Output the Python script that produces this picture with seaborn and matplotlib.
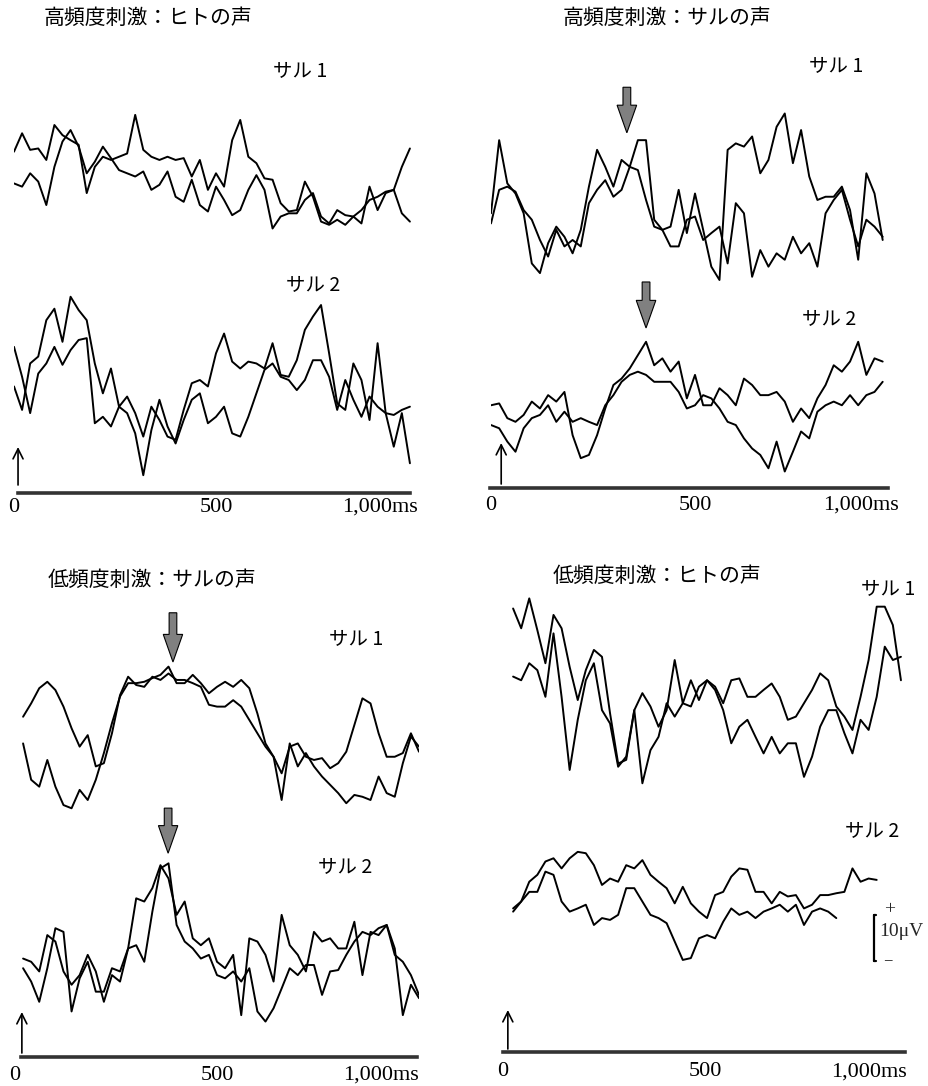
import numpy as np
import seaborn as sns
import matplotlib.pyplot as plt
from matplotlib.patches import FancyArrow

sns.set_theme(style="white")
plt.rcParams["font.family"] = ["Noto Sans CJK JP", "DejaVu Sans"]

W, H = 929, 1086          # output size in pixels
PX_PER_UV = 4.6           # vertical scale: pixels per microvolt (10 uV bar)

# ---------------------------------------------------------------- data (uV)
# time axes (ms) of the four panels
t_tl = np.arange(0, 1000, 20)
t_tr = np.arange(0, 980, 20)
t_bl = np.arange(20, 1020, 20)
t_br = np.arange(25, 1005, 20)

# 高頻度刺激：ヒトの声
tl_m1_a = [4.7, 8.7, 5.1, 5.4, 2.9, 10.5, 8.3, 7.2, 6.2, -4.3, 1.4, 3.6, 2.9, 3.6, 4.3, 12.7, 5.1, 3.6, 2.9, 3.6,
           2.9, 3.3, -0.7, 2.9, -3.6, 0.0, -2.9, 7.2, 11.6, 3.6, 2.2, -1.1, -1.4, -6.5, -8.3, -8.0, -1.8, -5.1, -10.5, -11.2,
           -10.1, -11.2, -9.4, -10.9, -2.9, -8.0, -4.3, -3.6, 1.4, 5.4]
tl_m1_b = [-2.2, -2.9, 0.0, -1.8, -6.9, 1.4, 6.9, 9.4, 5.8, 0.0, 2.5, 5.8, 3.3, 0.7, 0.0, -0.7, 0.4, -3.6, -2.5, 0.4,
           -5.1, -6.2, -1.4, -6.9, -8.3, -2.9, -5.8, -9.1, -8.0, -3.6, -0.4, -3.6, -12.0, -9.4, -8.7, -8.7, -5.8, -4.3, -9.4, -10.9,
           -8.0, -9.1, -9.4, -8.0, -5.8, -5.1, -4.0, -3.6, -8.7, -10.5]
tl_m2_a = [-1.4, -6.5, 3.6, 5.1, 13.0, 15.5, 8.3, 18.1, 15.2, 13.0, 3.6, -2.9, 2.5, -5.8, -3.6, -7.2, -12.3, -5.8, -8.7, -12.3,
           -13.0, -6.5, -0.7, 0.0, -1.4, 5.8, 10.1, 4.0, 2.5, 4.0, 3.6, 2.5, 8.0, 1.1, 0.7, 4.3, 10.9, 13.8, 16.3, 5.8,
           -5.1, -6.5, 3.6, 0.0, -8.7, 8.0, -7.2, -14.5, -7.2, -18.1]
tl_m2_b = [7.2, 0.7, -7.2, 1.4, 3.6, 7.2, 3.3, 6.5, 8.7, 9.1, -9.4, -8.0, -10.1, -5.8, -7.2, -11.6, -20.7, -10.9, -4.3, -10.1,
           -13.8, -8.7, -4.3, -2.9, -9.4, -8.0, -5.8, -11.6, -12.3, -8.0, -2.9, 2.2, 3.6, 0.7, 0.0, -2.2, 0.0, 4.3, 4.3, 0.7,
           -6.5, 0.0, -4.3, -8.0, -3.6, -5.8, -7.2, -7.6, -6.5, -5.8]

# 高頻度刺激：サルの声
tr_m1_a = [0.0, 15.9, 6.5, 4.3, 0.0, -10.9, -13.0, -6.5, -2.9, -5.1, -8.7, -3.6, 5.8, 13.8, 10.1, 5.8, 11.6, 10.1, 15.9, 15.9,
           -1.4, -3.6, -2.9, 5.1, -4.3, 4.3, -3.6, -11.6, -14.5, 13.8, 15.2, 14.5, 16.7, 8.7, 11.6, 18.8, 21.7, 10.9, 18.1, 8.0,
           2.9, 3.6, 3.6, 5.8, 0.7, -10.1, 8.7, 4.3, -5.8]
tr_m1_b = [-2.2, 5.1, 5.8, 4.7, 0.7, -1.4, -5.8, -9.4, -3.6, -7.2, -5.8, -7.2, 2.2, 5.1, 7.2, 3.6, 5.1, 10.1, 9.4, 2.9,
           -2.9, -3.6, -7.2, -7.2, -1.4, -0.7, -5.8, -4.3, -2.9, -10.9, 2.2, 0.0, -13.8, -8.0, -11.6, -8.7, -10.1, -5.1, -8.7, -6.5,
           -11.6, 0.0, 2.9, 5.1, -1.4, -7.2, -1.4, -2.9, -5.1]
tr_m2_a = [1.4, 1.8, -1.4, -2.2, -0.7, 2.2, 0.7, 3.6, 2.2, 4.3, -5.1, -10.1, -9.4, -5.1, 0.7, 5.8, 7.2, 9.4, 12.3, 15.2,
           10.1, 11.6, 8.7, 10.9, 2.9, 8.0, 1.4, 1.4, 5.1, 3.6, 1.4, 7.2, 5.8, 3.6, 3.6, 4.3, 2.2, -2.2, 0.7, -1.4,
           2.9, 5.8, 10.1, 8.7, 10.9, 15.2, 8.0, 11.6, 10.9]
tr_m2_b = [-2.9, -3.6, -6.5, -8.7, -3.6, -1.4, -0.7, 1.4, -2.2, 0.0, -2.2, -1.4, -2.2, -2.9, 1.4, 3.6, 6.5, 8.0, 8.7, 8.0,
           6.5, 6.5, 6.5, 4.3, 0.7, 1.4, 3.6, 2.9, 0.7, -2.2, -2.9, -5.8, -8.0, -9.4, -12.3, -6.5, -13.0, -8.7, -4.3, -5.8,
           0.0, 1.4, 2.2, 1.4, 3.6, 1.4, 3.6, 4.3, 6.5]

# 低頻度刺激：サルの声
bl_m1_a = [3.6, 6.5, 9.8, 11.2, 9.4, 5.8, 1.1, -2.9, -0.4, -7.2, -6.5, 0.0, 8.3, 12.3, 10.5, 10.1, 12.3, 11.6, 13.0, 11.6,
           11.6, 10.9, 10.1, 6.2, 5.8, 5.8, 7.2, 5.8, 2.9, 0.0, -2.9, -5.1, -8.7, -2.9, -2.2, -5.1, -5.8, -5.4, -7.6, -6.5,
           -4.0, 1.8, 7.6, 6.5, 0.0, -5.1, -5.1, -4.3, 0.0, -4.0]
bl_m1_b = [-2.2, -10.1, -11.6, -5.8, -11.6, -15.6, -16.3, -12.3, -14.5, -10.1, -4.3, 2.2, 8.0, 10.9, 10.9, 11.2, 12.0, 12.7, 14.5, 10.9,
           10.9, 12.7, 10.9, 8.7, 10.1, 11.2, 10.1, 11.6, 9.8, 4.3, -2.2, -5.1, -14.5, -2.2, -7.2, -4.3, -7.2, -9.4, -11.2, -13.0,
           -15.2, -13.4, -13.8, -14.5, -9.4, -13.0, -13.8, -6.5, -0.7, -2.9]
bl_m2_a = [1.4, 0.7, -1.4, 6.5, 5.1, -1.4, -4.3, -2.2, 2.2, -1.4, -8.0, -2.2, -3.6, 3.6, 14.5, 13.8, 16.7, 21.7, 18.8, 10.9,
           13.8, 5.8, 4.3, 5.8, 0.7, -0.7, 2.2, -10.9, 5.8, 5.1, 2.2, -3.6, 10.9, 4.3, 2.2, -1.4, 7.2, 5.1, 5.8, 3.6,
           3.6, 9.4, -2.2, 7.2, 6.5, 8.7, 3.6, -10.9, -4.3, -7.2]
bl_m2_b = [-0.7, -3.6, -8.0, -0.7, 8.0, 7.2, -10.1, -2.9, 0.7, -5.8, -5.8, -0.7, -1.4, 3.6, 4.3, 0.7, 11.6, 21.0, 22.1, 8.7,
           5.1, 3.6, 1.4, 2.2, -2.2, -2.9, -1.4, -3.6, -0.7, -10.1, -12.3, -9.4, -5.1, -0.7, -2.2, 0.0, 0.0, -6.5, -1.4, -1.1,
           2.2, 5.1, 7.2, 6.5, 8.0, 8.7, 2.2, 0.7, -2.2, -6.5]

# 低頻度刺激：ヒトの声
br_m1_a = [17.0, 12.7, 19.2, 12.3, 5.1, 15.6, 12.7, 4.3, -2.9, 3.6, 8.0, 6.5, -5.8, -16.7, -15.9, -5.1, -1.4, -4.3, -8.7, -5.1,
           5.8, -3.6, 1.4, -2.9, 1.4, 0.0, -3.6, 1.4, 1.8, -2.2, -2.2, -0.7, 0.7, -2.2, -7.2, -6.5, -3.6, -0.7, 2.9, 1.4,
           -4.3, -6.5, -9.4, -2.2, 5.8, 17.4, 17.4, 13.4, 1.4]
br_m1_b = [2.2, 1.4, 5.1, 3.6, -2.2, 11.6, -2.2, -18.1, -7.2, 1.4, 5.1, -5.1, -8.0, -17.4, -15.2, -5.1, -21.0, -13.8, -10.9, -3.6,
           -6.5, -3.6, -4.3, 0.0, 1.4, -0.7, -5.1, -12.3, -8.7, -7.2, -10.9, -14.5, -10.9, -14.5, -12.3, -12.3, -19.6, -15.2, -8.7, -5.1,
           -5.1, -10.1, -14.5, -7.2, -9.4, -2.2, 8.7, 5.8, 6.5]
br_m2_a = [-2.2, -0.7, 3.6, 5.1, 8.0, 8.7, 6.5, 8.7, 10.1, 9.8, 7.2, 2.9, 4.3, 3.6, 7.2, 6.5, 8.3, 5.1, 3.6, 2.2,
           -1.1, 2.5, -1.1, -2.9, -4.3, 0.7, 1.4, 4.7, 6.5, 6.2, 1.4, 1.4, -1.1, 1.4, 0.4, 0.7, -2.2, -1.4, 0.7, 0.7,
           1.1, 1.4, 6.5, 3.6, 4.3, 4.0]
br_m2_b = [-2.9, -0.7, 1.4, 1.4, 5.8, 5.1, -0.7, -2.9, -2.2, -1.4, -5.8, -4.3, -4.7, -3.6, 2.2, 2.2, -0.7, -3.6, -4.3, -5.4,
           -9.4, -13.4, -13.0, -8.7, -8.0, -8.7, -5.1, -2.2, -3.6, -2.9, -4.3, -2.9, -2.2, -1.4, -2.9, -1.4, -5.8, -2.9, -2.2, -2.9,
           -4.3]

fig = plt.figure(figsize=(W / 100, H / 100), dpi=100)
fig.patch.set_facecolor("white")


def ptext(x, y, s, **kw):
    # text placed by pixel position from the top-left corner
    fig.text(x / W, 1 - y / H, s, **kw)


def trace_axes(x0, ppm, base_y):
    # x0: pixel of t=0, ppm: pixels per ms, base_y: pixel row of 0 uV
    half = 35 * PX_PER_UV
    ax = fig.add_axes([x0 / W, 1 - (base_y + half) / H, 1000 * ppm / W, 2 * half / H])
    ax.set_xlim(0, 1000)
    ax.set_ylim(-35, 35)
    ax.axis("off")
    ax.patch.set_alpha(0)
    return ax


def draw_traces(ax, t, a, b):
    for vals in (a, b):
        sns.lineplot(x=t[:len(vals)], y=vals, ax=ax, color="black", linewidth=1.4,
                     estimator=None, sort=False)


def down_arrow(ax, t, tip, top):
    ax.add_patch(FancyArrow(t, top, 0, tip - top, width=19, head_width=48, head_length=6.0,
                            length_includes_head=True, fc="0.5", ec="black", lw=0.8,
                            clip_on=False, zorder=5))


def time_axis(x0, ppm, line_y, xs, xe, label_y, arrow_t, arrow_top, arrow_bottom):
    ax = fig.add_axes([xs / W, 1 - line_y / H, (xe - xs) / W, 60 / H])
    ax.set_xlim((xs - x0) / ppm, (xe - x0) / ppm)
    ax.set_ylim(0, 60)
    for s in ["top", "left", "right"]:
        ax.spines[s].set_visible(False)
    ax.spines["bottom"].set_linewidth(2.6)
    ax.spines["bottom"].set_color("0.2")
    ax.set_xticks([])
    ax.set_yticks([])
    ax.patch.set_alpha(0)
    dy = -(label_y - line_y)
    serif = dict(family="Liberation Serif", fontsize=16, va="center", color="black")
    ax.text(0, dy, "0", ha="center", **serif)
    ax.text(500, dy, "500", ha="center", **serif)
    ax.text(1000, dy, "1,000ms", ha="right", **serif)
    ax.annotate("", xy=(arrow_t, arrow_top), xytext=(arrow_t, arrow_bottom),
                arrowprops=dict(arrowstyle="->,head_length=0.6,head_width=0.3", color="black",
                                lw=1.2, shrinkA=0, shrinkB=0),
                annotation_clip=False)


title_kw = dict(fontsize=15, va="center", ha="left", color="black")
lab_kw = dict(fontsize=14, va="center", ha="center", color="black")

# ---------------- 高頻度刺激：ヒトの声 (top left)
ptext(44, 18, "高頻度刺激：ヒトの声", **title_kw)
ptext(300, 72, "サル 1", **lab_kw)
ptext(313, 286, "サル 2", **lab_kw)
ax = trace_axes(14, 0.404, 173.3)
draw_traces(ax, t_tl, tl_m1_a, tl_m1_b)
ax = trace_axes(14, 0.404, 380)
draw_traces(ax, t_tl, tl_m2_a, tl_m2_b)
time_axis(14, 0.404, 493, 18, 410, 507, 10, 46, 8)

# ---------------- 高頻度刺激：サルの声 (top right)
ptext(563, 18, "高頻度刺激：サルの声", **title_kw)
ptext(836, 67, "サル 1", **lab_kw)
ptext(829, 320, "サル 2", **lab_kw)
ax = trace_axes(491, 0.408, 213.3)
draw_traces(ax, t_tr, tr_m1_a, tr_m1_b)
down_arrow(ax, 333, 17.5, 27.4)
ax = trace_axes(491, 0.408, 411.7)
draw_traces(ax, t_tr, tr_m2_a, tr_m2_b)
down_arrow(ax, 380, 18.2, 28.2)
time_axis(491, 0.408, 488, 490, 888, 505, 25, 45, 4)

# ---------------- 低頻度刺激：サルの声 (bottom left)
ptext(48, 580, "低頻度刺激：サルの声", **title_kw)
ptext(356, 640, "サル 1", **lab_kw)
ptext(345, 868, "サル 2", **lab_kw)
ax = trace_axes(15, 0.404, 733.3)
draw_traces(ax, t_bl, bl_m1_a, bl_m1_b)
down_arrow(ax, 391, 15.5, 26.2)
ax = trace_axes(15, 0.404, 965)
draw_traces(ax, t_bl, bl_m2_a, bl_m2_b)
down_arrow(ax, 379, 24.3, 34.1)
time_axis(15, 0.404, 1057, 21, 417, 1075, 17, 45, 4)

# ---------------- 低頻度刺激：ヒトの声 (bottom right)
ptext(553, 576, "低頻度刺激：ヒトの声", **title_kw)
ptext(888, 590, "サル 1", **lab_kw)
ptext(872, 832, "サル 2", **lab_kw)
ax = trace_axes(503, 0.404, 686.7)
draw_traces(ax, t_br, br_m1_a, br_m1_b)
ax = trace_axes(503, 0.404, 898.3)
draw_traces(ax, t_br, br_m2_a, br_m2_b)
# 10 uV scale bar
bar_t, bar_top, bar_bot = 918, -3.6, -13.6
ax.plot([bar_t, bar_t], [bar_top, bar_bot], color="black", lw=1.6, clip_on=False)
ax.plot([bar_t, bar_t + 6], [bar_top, bar_top], color="black", lw=1.6, clip_on=False)
ax.plot([bar_t, bar_t + 6], [bar_bot, bar_bot], color="black", lw=1.6, clip_on=False)
ptext(890, 910, "+", fontsize=14, family="Liberation Serif", ha="center", va="center")
ptext(879, 931, "10μV", fontsize=14, family="Liberation Serif", ha="left", va="center")
ptext(888, 961, "−", fontsize=12, family="Liberation Serif", ha="center", va="center")
time_axis(503, 0.404, 1052, 503, 905, 1072, 12, 42, 3)

fig.savefig("out.png", dpi=100, facecolor="white")
